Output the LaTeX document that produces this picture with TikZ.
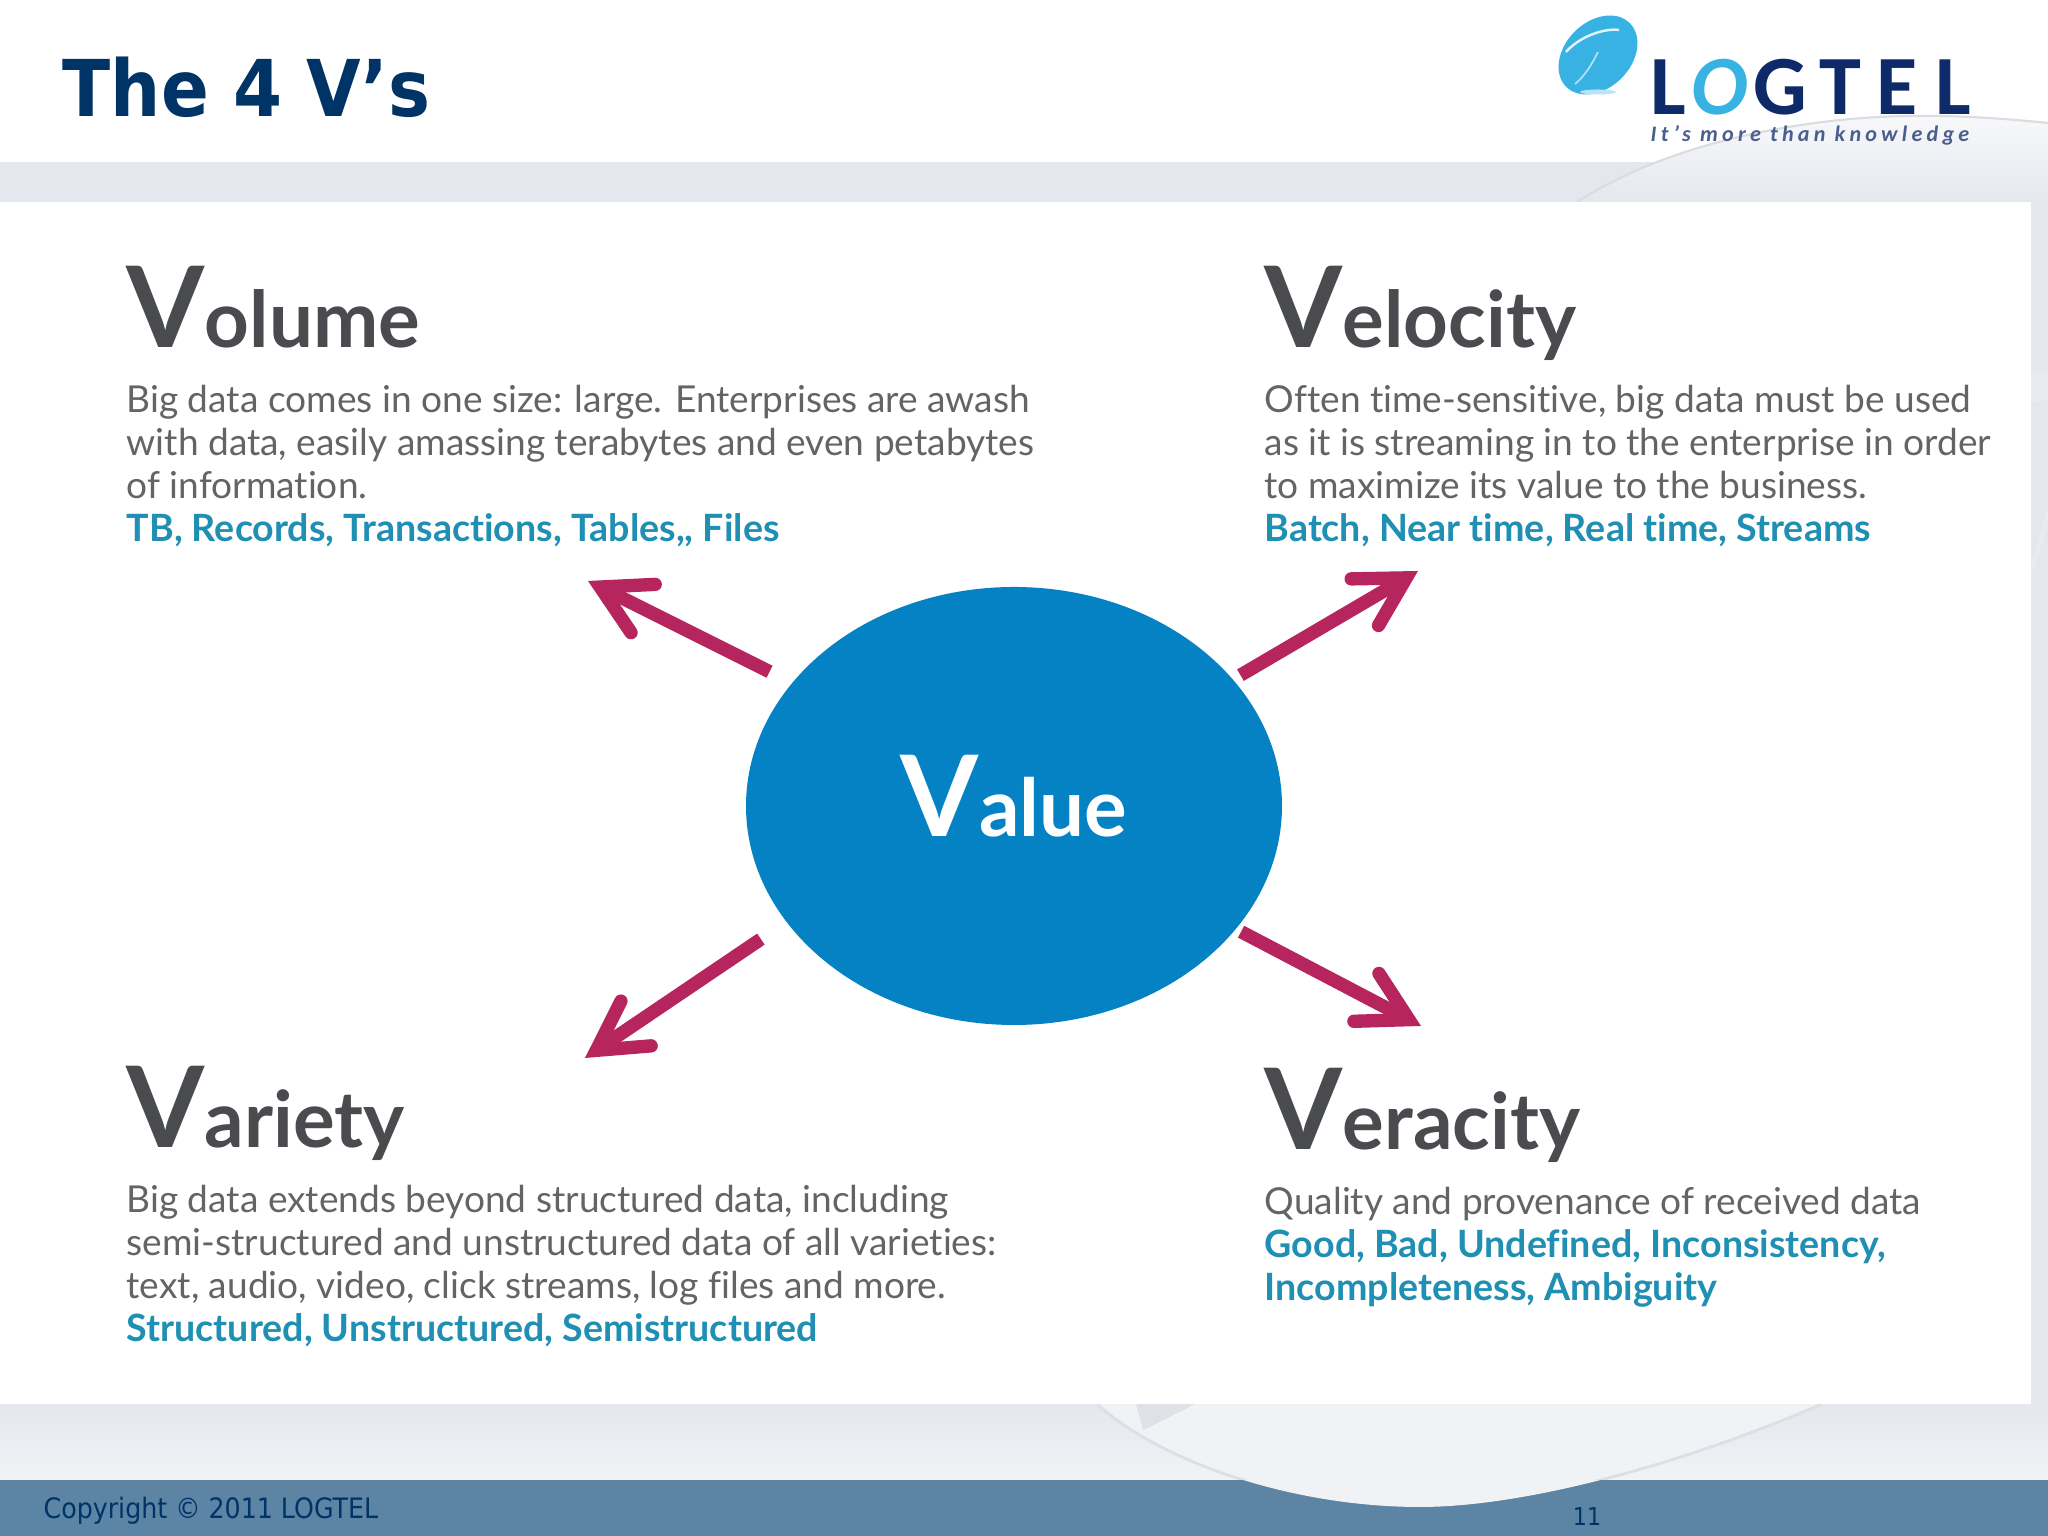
\documentclass[tikz,border=0pt]{standalone}
\usepackage{fontspec}
\usepackage{tikz}
\usetikzlibrary{arrows.meta,positioning,shapes.geometric}
\setmainfont{Lato}[Ligatures=NoCommon]
\newfontfamily\titlefont{DejaVu Sans Condensed}
\newfontfamily\footfont{DejaVu Sans Condensed}
\newfontfamily\logofont{Carlito}
\newfontfamily\sloganfont[LetterSpace=19]{Carlito}

\definecolor{titleblue}{HTML}{003366}
\definecolor{bandgray}{HTML}{E5E7EE}
\definecolor{bodygray}{HTML}{636466}
\definecolor{headgray}{HTML}{4A4B4F}
\definecolor{notecyan}{HTML}{1F8FB3}
\definecolor{valueblue}{HTML}{0582C3}
\definecolor{arrowred}{HTML}{B6255E}
\definecolor{footblue}{HTML}{5A84A6}
\definecolor{logocyan}{HTML}{38B2E2}
\definecolor{logonavy}{HTML}{0F2A68}

\tikzset{
	headnode/.style={anchor=base west, inner sep=0pt, text=headgray, font=\bfseries\fontsize{22.2}{22.2}\selectfont},
	textnode/.style={anchor=north west, inner sep=0pt, align=left, text=bodygray, font=\fontsize{10.55}{12.2}\selectfont},
	post/.style={-{Straight Barb[length=.48cm,width=.54cm,line cap=round]}, arrowred, line width=3.8pt}
}
\newcommand{\bigV}{{\fontsize{32}{32}\selectfont V}}
\newcommand{\note}[1]{{\color{notecyan}\bfseries\fontsize{10.7}{12.2}\selectfont #1}}

\begin{document}
\begin{tikzpicture}
	\useasboundingbox (0,0) rectangle (20.48,15.36);

	% background bands
	\fill[white] (0,0) rectangle (20.48,15.36);
	\fill[bandgray] (0,1.32) rectangle (20.48,13.74);
	\shade[top color=bandgray, bottom color=bandgray!50!white] (0,.55) rectangle (20.48,1.32);
	\shade[top color=bandgray!25!white, bottom color=bandgray] (15.77,13.34) .. controls (16.4,13.74) and (17.2,14.0) .. (18.15,14.13)
		.. controls (18.9,14.23) and (19.6,14.22) .. (20.48,14.13) -- (20.48,13.34) -- cycle;
	\draw[bandgray!95!black, line width=.6pt] (15.77,13.34) .. controls (16.4,13.74) and (17.2,14.0) .. (18.15,14.13)
		.. controls (18.9,14.23) and (19.6,14.22) .. (20.48,14.13);
	\shade[top color=footblue!90!gray, bottom color=footblue] (0,0) rectangle (20.48,.55);
	\fill[white!45!bandgray] (10.97,1.32) .. controls (11.6,.75) and (12.9,.29) .. (14.2,.29)
		.. controls (15.3,.29) and (16.9,.75) .. (18.22,1.32) -- cycle;
	\begin{scope}
		\clip (0,.56) rectangle (20.48,1.32);
		\draw[bandgray!92!gray, line width=.8pt] (10.97,1.32) .. controls (11.6,.75) and (12.9,.29) .. (14.2,.29)
			.. controls (15.3,.29) and (16.9,.75) .. (18.22,1.32);
	\end{scope}
	\fill[bandgray!94!gray] (11.36,1.32) -- (11.95,1.32) .. controls (11.75,1.22) and (11.6,1.14) .. (11.43,1.06) -- cycle;
	\fill[white!15!bandgray] (20.31,11.62) -- (20.48,11.66) -- (20.48,11.36) -- (20.31,11.34) -- cycle;
	\fill[white!15!bandgray] (20.31,9.71) -- (20.48,10.3) -- (20.48,10.1) -- (20.31,9.6) -- cycle;
	\fill[white] (0,1.32) rectangle (20.31,13.34);

	% header
	\node[anchor=base west, inner sep=0pt, text=titleblue, font=\titlefont\bfseries\fontsize{22.3}{22.3}\selectfont] (Title) at (.62,14.19) {The 4 V’s};
	\node[ellipse, fill=logocyan, minimum width=.9cm, minimum height=.66cm, rotate=45, inner sep=0pt] (Disc) at (15.98,14.81) {};
	\draw[white!85!logocyan, line width=.7pt] (15.66,14.84) .. controls (15.8,15.0) and (16.05,15.08) .. (16.19,15.06);
	\draw[white!60!logocyan, line width=.5pt] (15.75,14.52) .. controls (15.85,14.6) and (15.92,14.72) .. (15.98,14.84);
	\fill[logocyan!35!white] (15.98,14.44) ellipse (.18 and .025);
	\node[anchor=base west, inner sep=0pt, text depth=0pt, text=logonavy, font=\logofont\bfseries\fontsize{24}{24}\selectfont] (Logo) at (16.5,14.21)
		{L\kern1.5pt{\color{logocyan}\itshape O}\kern1.5pt G\kern3.5pt T\kern4.5pt E\kern5pt L};
	\node[anchor=base west, inner sep=0pt, text height=4pt, text=logonavy!75, font=\sloganfont\bfseries\itshape\fontsize{6.3}{6.3}\selectfont] (Slogan) at (16.5,13.94) {It’s more than knowledge};

	% the four blocks
	\node[headnode] (Volume) at (1.26,11.88) {\bigV olume};
	\node[textnode, below right=.37cm and 0cm of Volume.base west] (VolumeText)
		{Big data comes in one size: large. Enterprises are awash\\
		with data, easily amassing terabytes and even petabytes\\
		of information.\\
		\note{TB, Records, Transactions, Tables,{}, Files}};

	\node[headnode] (Velocity) at (12.64,11.88) {\bigV elocity};
	\node[textnode, below right=.37cm and 0cm of Velocity.base west] (VelocityText)
		{Often time-sensitive, big data must be used\\
		as it is streaming in to the enterprise in order\\
		to maximize its value to the business.\\
		\note{Batch, Near time, Real time, Streams}};

	\node[headnode] (Variety) at (1.26,3.88) {\bigV ariety};
	\node[textnode, below right=.37cm and 0cm of Variety.base west] (VarietyText)
		{Big data extends beyond structured data, including\\
		semi-structured and unstructured data of all varieties:\\
		text, audio, video, click streams, log files and more.\\
		\note{Structured, Unstructured, Semistructured}};

	\node[headnode] (Veracity) at (12.64,3.86) {\bigV eracity};
	\node[textnode, below right=.37cm and 0cm of Veracity.base west] (VeracityText)
		{Quality and provenance of received data\\
		\note{Good, Bad, Undefined, Inconsistency,}\\
		\note{Incompleteness, Ambiguity}};

	% value and arrows
	\node[ellipse, fill=valueblue, minimum width=5.36cm, minimum height=4.38cm, inner sep=0pt, text=white,
		font=\bfseries\fontsize{22.7}{22.7}\selectfont] (Value) at (10.14,7.30) {\rule[-.2cm]{0pt}{.01pt}\bigV alue};

	\coordinate (VolumeTip) at (5.88,9.55);
	\coordinate (VelocityTip) at (14.18,9.65);
	\coordinate (VarietyTip) at (5.85,4.78);
	\coordinate (VeracityTip) at (14.21,5.10);

	\draw[post, shorten <=7pt] (Value.151) -- (VolumeTip);
	\draw[post, shorten <=2.3pt] (Value.30) -- (VelocityTip);
	\draw[post, shorten <=8.6pt] (Value.207) -- (VarietyTip);
	\draw[post, shorten <=1.5pt] (Value.331) -- (VeracityTip);

	% footer
	\node[anchor=base west, inner sep=0pt, text=titleblue, font=\footfont\fontsize{8}{8}\selectfont] (Copy) at (.43,.17) {Copyright © 2011 LOGTEL};
	\node[anchor=base, inner sep=0pt, text=titleblue, font=\footfont\fontsize{7}{7}\selectfont] (Page) at (15.87,.1) {11};
\end{tikzpicture}
\end{document}
